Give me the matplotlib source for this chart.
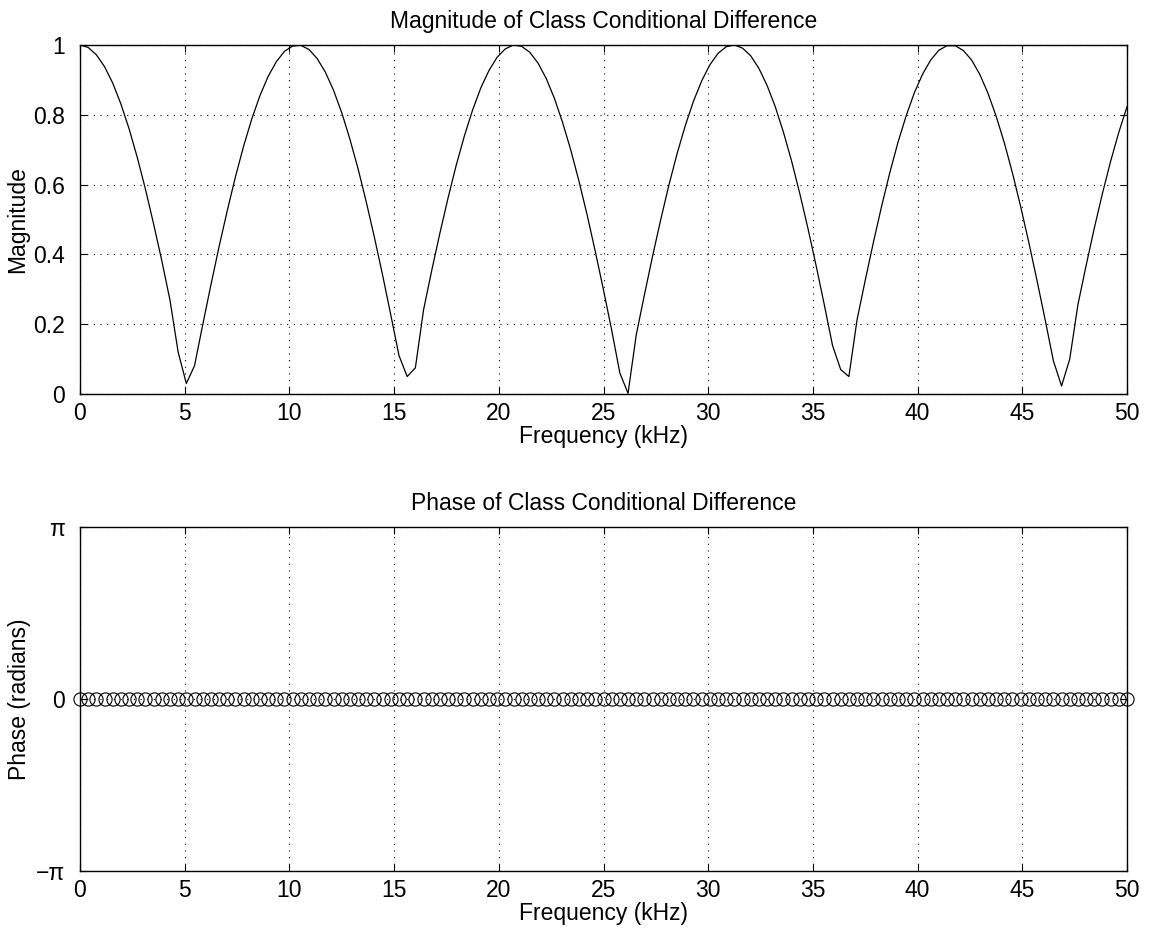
import numpy as np
import matplotlib
matplotlib.use('Agg')
import matplotlib.pyplot as plt

plt.rcParams['font.family'] = ['Liberation Sans', 'DejaVu Sans']

# frequency grid, 129 bins from 0 to 50 kHz
freq = np.arange(129) * 50 / 128

magnitude = [
    1.000, 0.993, 0.972, 0.938, 0.891, 0.831, 0.760, 0.678, 0.587, 0.487,
    0.382, 0.269, 0.120, 0.030, 0.081, 0.198, 0.312, 0.422, 0.525, 0.622,
    0.710, 0.788, 0.855, 0.910, 0.952, 0.982, 0.997, 0.999, 0.987, 0.961,
    0.922, 0.870, 0.806, 0.730, 0.645, 0.550, 0.448, 0.340, 0.226, 0.110,
    0.050, 0.075, 0.241, 0.354, 0.461, 0.562, 0.656, 0.740, 0.814, 0.877,
    0.927, 0.965, 0.989, 1.000, 0.996, 0.979, 0.948, 0.904, 0.847, 0.778,
    0.699, 0.610, 0.513, 0.408, 0.298, 0.183, 0.060, 0.002, 0.169, 0.284,
    0.395, 0.500, 0.599, 0.689, 0.769, 0.839, 0.897, 0.943, 0.976, 0.995,
    1.000, 0.991, 0.969, 0.933, 0.884, 0.823, 0.750, 0.667, 0.574, 0.474,
    0.367, 0.255, 0.139, 0.070, 0.050, 0.213, 0.326, 0.435, 0.538, 0.634,
    0.721, 0.797, 0.863, 0.916, 0.957, 0.985, 0.998, 0.998, 0.984, 0.957,
    0.916, 0.862, 0.796, 0.720, 0.633, 0.537, 0.434, 0.325, 0.212, 0.095,
    0.023, 0.100, 0.256, 0.368, 0.475, 0.575, 0.667, 0.750, 0.823,
]

phase = [0.0] * len(freq)

fig = plt.figure(figsize=(11.49, 9.35), dpi=100)
W, H = 1149, 935
FS = 16.5


def matlab_axes(left, top, right, bottom):
    ax = fig.add_axes([left / W, 1 - bottom / H, (right - left) / W, (bottom - top) / H])
    ax.tick_params(direction='in', top=True, right=True, labelsize=FS, length=5, width=0.8)
    ax.tick_params(axis='x', pad=6)
    ax.tick_params(axis='y', pad=11)
    ax.grid(True, color='black', linestyle=(0, (1, 5)), linewidth=0.8)
    for s in ax.spines.values():
        s.set_linewidth(1.0)
    return ax


ax1 = matlab_axes(80, 45, 1127, 394)
ax1.plot(freq, magnitude, color='black', linewidth=0.9)
ax1.set_xlim(0, 50)
ax1.set_ylim(0, 1)
ax1.set_xticks(np.arange(0, 51, 5))
ax1.set_yticks([0, 0.2, 0.4, 0.6, 0.8, 1])
ax1.set_yticklabels(['0', '0.2', '0.4', '0.6', '0.8', '1'])
ax1.set_title('Magnitude of Class Conditional Difference', fontsize=FS, pad=12)
ax1.set_xlabel('Frequency (kHz)', fontsize=FS, labelpad=0)
ax1.set_ylabel('Magnitude', fontsize=FS, labelpad=3)

ax2 = matlab_axes(80, 527, 1127, 871)
ax2.plot(freq, phase, linestyle='none', marker='o', markersize=9.5,
         markerfacecolor='none', markeredgecolor='black', markeredgewidth=0.8,
         clip_on=False)
ax2.set_xlim(0, 50)
ax2.set_ylim(-np.pi, np.pi)
ax2.set_xticks(np.arange(0, 51, 5))
ax2.set_yticks([-np.pi, 0, np.pi])
ax2.set_yticklabels(['\u2212\u03c0', '0', '\u03c0'])
ax2.set_title('Phase of Class Conditional Difference', fontsize=FS, pad=12)
ax2.set_xlabel('Frequency (kHz)', fontsize=FS, labelpad=0)
ax2.set_ylabel('Phase (radians)', fontsize=FS, labelpad=3)

fig.savefig('out.png', dpi=100)
